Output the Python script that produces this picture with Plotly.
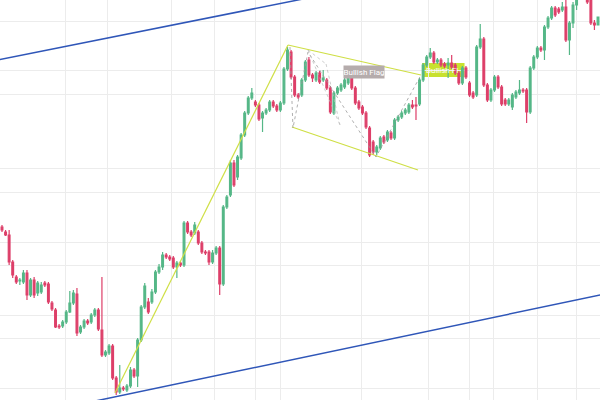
import plotly.graph_objects as go

# OHLC values (price units), one candle per bar, left to right
open_ = [173,168,165,138,123,119,118,127,105,120,107,108,117,116,97,90,74,74,78,88,
         97,106,68,73,79,78,85,90,70,45,47,54,22,8,12,10,14,30,24,60,
         93,98,98,108,128,133,145,143,142,133,137,135,177,168,167,168,157,148,148,138,
         147,152,116,193,205,237,223,242,265,287,302,298,295,282,287,290,298,294,290,297,
         331,348,323,305,305,320,340,325,320,327,320,320,312,287,307,310,313,317,322,312,
         298,293,287,272,258,248,252,263,260,267,262,280,283,287,288,295,295,296,320,335,
         343,347,338,340,336,335,337,335,327,317,332,317,307,305,353,361,315,300,310,323,
         313,300,296,293,303,307,310,310,288,332,343,352,350,373,382,392,391,390,393,360,
         377,395,405,412,410,400,377,375]
high = [175,170,170,140,125,122,130,130,122,123,119,118,119,118,99,92,76,80,90,109,
        110,112,75,81,81,87,92,92,123,50,56,56,24,35,14,16,33,32,62,95,
        117,102,111,130,136,148,147,145,144,139,139,179,179,170,178,170,159,150,150,150,
        154,154,195,205,240,240,245,267,289,304,312,300,297,289,292,300,300,296,299,333,
        353,350,325,307,322,340,343,327,329,329,330,322,314,309,314,317,322,324,324,314,
        300,295,289,274,260,255,264,265,270,269,282,285,289,292,297,300,303,322,337,345,
        352,349,342,342,338,342,345,337,329,334,334,319,309,355,376,363,317,312,325,325,
        315,302,302,307,310,320,312,312,334,345,354,354,375,384,394,394,393,398,402,379,
        398,410,415,418,414,404,380,383]
low = [168,164,135,122,116,115,116,100,103,102,104,106,113,96,89,72,71,72,76,87,
       95,64,66,71,75,76,83,69,43,43,45,20,5,6,9,8,12,22,13,58,
       91,86,96,106,126,130,141,139,131,122,133,133,166,163,165,155,146,145,135,136,
       145,105,114,191,203,213,220,240,263,285,300,293,279,268,285,288,292,288,288,295,
       329,321,303,301,303,318,323,318,318,316,318,310,286,285,305,308,311,315,310,295,
       290,285,271,243,245,245,250,256,258,260,260,278,281,285,286,291,280,294,318,333,
       341,336,336,333,332,322,331,325,315,315,321,303,301,303,351,313,298,298,308,311,
       294,294,294,290,301,305,307,277,286,330,341,348,340,371,380,383,386,388,358,345,
       372,390,400,405,396,375,370,375]
close = [170,165,138,125,118,120,127,105,120,105,117,115,115,98,91,73,73,78,88,97,
         107,67,73,79,77,85,90,71,45,48,54,22,8,12,11,14,30,24,60,93,
         114,88,108,128,133,145,143,141,133,137,135,177,168,165,175,157,148,147,138,147,
         152,116,193,203,237,215,243,265,287,302,307,295,281,287,290,298,294,290,297,331,
         350,323,305,303,320,338,325,322,327,318,322,312,288,307,312,315,320,322,312,297,
         292,287,273,245,248,253,262,258,268,262,280,283,287,290,295,293,294,320,335,343,
         347,338,340,335,334,337,333,327,317,332,323,305,303,353,361,315,300,310,323,313,
         296,296,300,305,308,310,309,288,332,343,352,350,373,382,392,385,388,393,360,377,
         395,405,410,408,398,377,375,383]

# drawing anchors (bar index, price)
upper_channel_x = [-1, 100]
upper_channel_y = [340.1, 412.2]
lower_channel_x = [20, 170]
lower_channel_y = [-5.6, 106.8]
pole_x = [31.66, 80.13]
pole_y = [7, 355]
flag_top_x = [80.13, 117.4]
flag_top_y = [355, 325]
flag_bot_x = [81.25, 116.56]
flag_bot_y = [273, 230]
zig_x = [80.69, 81.53, 85.74, 104.79, 117.4]
zig_y = [353, 272, 348, 243, 325]
fan1_x = [85.74, 94.7]
fan1_y = [350, 275]
fan2_x = [90.8, 94.7]
fan2_y = [336, 275]
fan3_x = [85.74, 90.8]
fan3_y = [350, 336]

x_grid = [17.93, 29.70, 47.63, 59.68, 70.89, 78.17, 100.87, 119.64, 131.13, 137.85, 150.18, 161.11]
y_grid = [379, 330, 306, 232, 208, 158, 135, 85, 62, 12]

idx = list(range(len(open_)))
GREEN = "#55b787"
RED = "#dd3f69"
LIME = "#cfdf45"
BLUE = "#2f56b8"

fig = go.Figure()
fig.add_trace(go.Candlestick(
    x=idx, open=open_, high=high, low=low, close=close,
    increasing=dict(line=dict(color=GREEN, width=1.2), fillcolor=GREEN),
    decreasing=dict(line=dict(color=RED, width=1.2), fillcolor=RED),
    whiskerwidth=0, showlegend=False, hoverinfo="skip"))

def line(x, y, color, width=1.3, dash="solid"):
    fig.add_trace(go.Scatter(x=x, y=y, mode="lines", line=dict(color=color, width=width, dash=dash),
                             showlegend=False, hoverinfo="skip"))

line(upper_channel_x, upper_channel_y, BLUE, 1.5)
line(lower_channel_x, lower_channel_y, BLUE, 1.5)
line(pole_x, pole_y, LIME, 1.2)
line(flag_top_x, flag_top_y, LIME, 1.2)
line(flag_bot_x, flag_bot_y, LIME, 1.2)
line(zig_x, zig_y, "#9a9a9a", 0.8, "dot")
line(fan1_x, fan1_y, "#b8b8b8", 0.7, "dot")
line(fan2_x, fan2_y, "#b8b8b8", 0.7, "dot")
line(fan3_x, fan3_y, "#b8b8b8", 0.7, "dot")

fig.add_annotation(x=101.43, y=328.5, text="Bullish Flag", showarrow=False,
                   bgcolor="#b5acac", font=dict(color="white", size=8, family="Roboto"),
                   width=40, height=12, borderpad=0)
fig.add_shape(type="rect", x0=117.7, x1=129.6, y0=323, y1=337, fillcolor="#c8e12e",
              line=dict(width=0), layer="below")
fig.add_annotation(x=123.3, y=330, text="Bullish Fl", showarrow=False,
                   font=dict(color="white", size=8, family="Roboto"))

fig.update_layout(
    width=600, height=400, margin=dict(l=0, r=0, t=0, b=0),
    plot_bgcolor="white", paper_bgcolor="white",
    xaxis=dict(range=[-0.56, 167.56], tickvals=x_grid, showticklabels=False,
               gridcolor="#ececec", zeroline=False, rangeslider=dict(visible=False),
               showline=False, ticks=""),
    yaxis=dict(range=[0, 400], tickvals=y_grid, showticklabels=False,
               gridcolor="#ececec", zeroline=False, showline=False, ticks=""),
)
fig.write_html("out.html", config={"displayModeBar": False},
               post_script="document.body.style.margin='0';document.body.style.overflow='hidden';")
